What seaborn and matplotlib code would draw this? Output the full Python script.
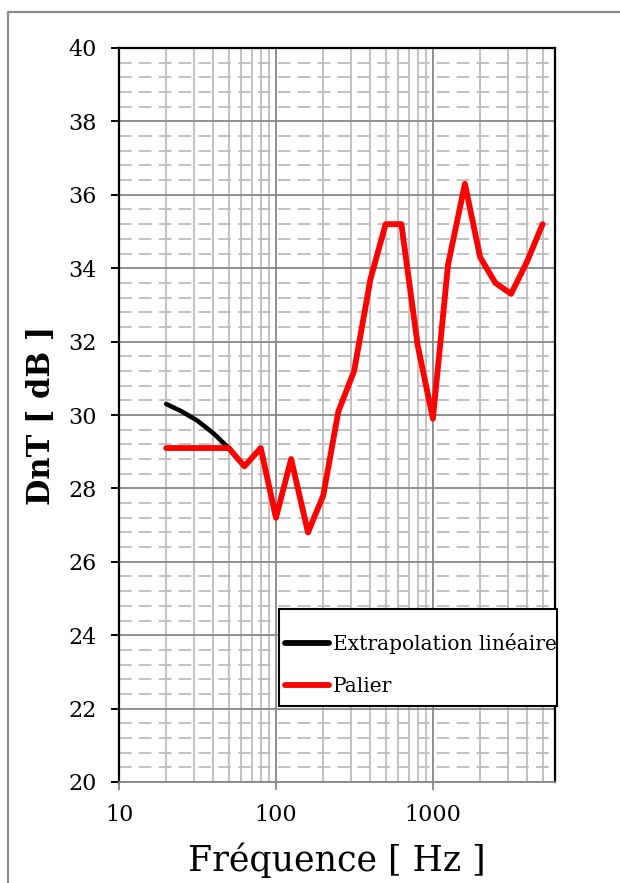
import numpy as np
import pandas as pd
import matplotlib
matplotlib.use("Agg")
import matplotlib.pyplot as plt
import seaborn as sns
from matplotlib.ticker import LogLocator, MultipleLocator, FixedLocator, NullFormatter, FuncFormatter
from matplotlib.patches import Rectangle
from matplotlib.lines import Line2D

# one-third octave bands (Hz)
freqs = [20, 25, 31.5, 40, 50, 63, 80, 100, 125, 160, 200, 250, 315, 400,
         500, 630, 800, 1000, 1250, 1600, 2000, 2500, 3150, 4000, 5000]
palier = [29.1, 29.1, 29.1, 29.1, 29.1, 28.6, 29.1, 27.2, 28.8, 26.8, 27.8, 30.1,
          31.2, 33.7, 35.2, 35.2, 31.9, 29.9, 34.1, 36.3, 34.3, 33.6, 33.3, 34.2, 35.2]
extrap_freqs = [20, 25, 31.5, 40, 50]
extrap = [30.3, 30.1, 29.85, 29.5, 29.1]

df_pal = pd.DataFrame({"f": freqs, "v": palier})
df_ext = pd.DataFrame({"f": extrap_freqs, "v": extrap})

W, H = 620, 883
sns.set_style("white")
plt.rcParams["font.family"] = ["DejaVu Serif"]
plt.rcParams["text.color"] = "black"
plt.rcParams["axes.labelcolor"] = "black"
plt.rcParams["xtick.color"] = "black"
plt.rcParams["ytick.color"] = "black"

fig = plt.figure(figsize=(W / 100, H / 100), dpi=100)
ax = fig.add_axes([119 / W, 1 - 782 / H, (555 - 119) / W, (782 - 48) / H])

sns.lineplot(data=df_ext, x="f", y="v", ax=ax, color="black", lw=3.3,
             label="Extrapolation linéaire", zorder=3)
sns.lineplot(data=df_pal, x="f", y="v", ax=ax, color="#ff0000", lw=4.2,
             label="Palier", zorder=4)

ax.set_xscale("log")
ax.set_xlim(10, 6000)
ax.set_ylim(20, 40)
ax.xaxis.set_major_locator(FixedLocator([10, 100, 1000]))
ax.xaxis.set_major_formatter(FuncFormatter(lambda v, p: f"{int(v)}"))
ax.xaxis.set_minor_locator(LogLocator(base=10, subs=np.arange(2, 10), numticks=20))
ax.xaxis.set_minor_formatter(NullFormatter())
ax.yaxis.set_major_locator(MultipleLocator(2))
ax.yaxis.set_minor_locator(MultipleLocator(0.4))

ax.grid(which="major", axis="both", color="#878787", lw=1.3, zorder=0)
ax.grid(which="minor", axis="x", color="#bcbcbc", lw=1.3, zorder=0)
ax.grid(which="minor", axis="y", color="#bcbcbc", lw=1.3, ls=(0, (7, 4)), zorder=0)

ax.tick_params(axis="y", which="major", direction="out", length=6, width=1.4,
               labelsize=16, color="black", labelcolor="black", left=True, pad=10)
ax.tick_params(axis="x", which="major", direction="out", length=6, width=1.3,
               labelsize=16, color="#878787", labelcolor="black", bottom=True, pad=10)
ax.tick_params(axis="both", which="minor", length=0)
for name, s in ax.spines.items():
    s.set_color("black")
    s.set_linewidth(1.6)
ax.spines["bottom"].set_color("#878787")
ax.spines["bottom"].set_linewidth(1.3)

ax.set_xlabel("Fréquence [ Hz ]", fontsize=25, labelpad=12, color="black")
ax.set_ylabel("DnT [ dB ]", fontsize=22, fontweight="bold", labelpad=8, color="black")

leg = ax.legend(loc="center left", bbox_to_anchor=(285 / W, 1 - 664.5 / H),
                bbox_transform=fig.transFigure, fontsize=14.5, frameon=False,
                handlelength=2.2, labelspacing=1.15, borderpad=0, handletextpad=0.2,
                borderaxespad=0)
leg.set_zorder(10)
for h in leg.legend_handles:
    h.set_linewidth(4.2)
for t in leg.get_texts():
    t.set_color("black")

# legend box
box = Rectangle((279 / W, 1 - 706 / H), (557 - 279) / W, (706 - 609) / H,
                transform=fig.transFigure, facecolor="white", edgecolor="black",
                lw=1.5, zorder=9, clip_on=False)
ax.add_patch(box)

# outer chart border (only left and top edges visible)
fig.lines.append(Line2D([8 / W, 8 / W, 1.0], [0.0, 1 - 12 / H, 1 - 12 / H],
                        transform=fig.transFigure, color="#8a8a8a", lw=1.6))

fig.savefig("out.png", dpi=100)
